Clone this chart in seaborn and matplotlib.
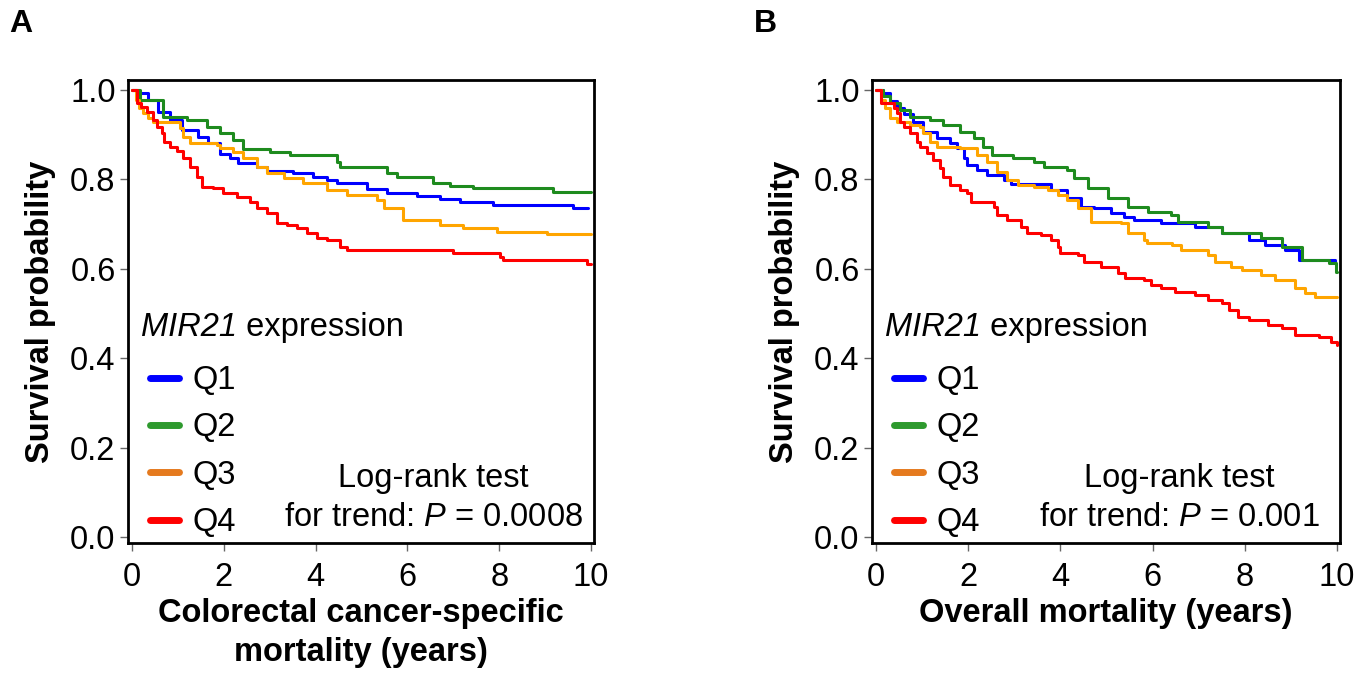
# Kaplan-Meier curves by MIR21 expression quartile (two panels)
import pandas as pd
import numpy as np
import seaborn as sns
import matplotlib
matplotlib.use("Agg")
import matplotlib.pyplot as plt
from matplotlib.lines import Line2D

groups = ["Q1", "Q2", "Q3", "Q4"]
curve_colors = {"Q1": "#0000FF", "Q2": "#1E8B1E", "Q3": "#FFA500", "Q4": "#FF0000"}
legend_colors = ["#0000FF", "#2E9A2E", "#E57A1E", "#FF0000"]

# Panel A: colorectal cancer-specific mortality (step points)
a_q1_t = [0, 0.15, 0.35, 0.57, 0.83, 1.09, 1.44, 1.66, 1.92, 2.14, 2.31, 2.72, 2.94, 3.51, 3.94, 4.25, 4.47, 5.12, 5.55, 6.21, 6.71, 7.15, 7.87, 9.61, 9.93]
a_q1_s = [1.0, 0.993, 0.978, 0.95, 0.933, 0.91, 0.895, 0.881, 0.857, 0.848, 0.837, 0.828, 0.819, 0.814, 0.805, 0.799, 0.792, 0.778, 0.770, 0.763, 0.756, 0.749, 0.743, 0.736, 0.736]
a_q2_t = [0, 0.17, 0.68, 1.2, 1.63, 1.92, 2.2, 2.42, 3.0, 3.44, 4.46, 4.53, 5.55, 5.77, 6.56, 6.93, 7.43, 9.17, 10.0]
a_q2_s = [1.0, 0.978, 0.94, 0.933, 0.917, 0.904, 0.888, 0.868, 0.861, 0.855, 0.839, 0.828, 0.814, 0.805, 0.792, 0.785, 0.781, 0.772, 0.772]
a_q3_t = [0, 0.08, 0.15, 0.25, 0.35, 0.46, 1.05, 1.12, 1.27, 1.85, 1.92, 2.21, 2.42, 2.72, 2.94, 3.30, 3.73, 4.25, 4.68, 5.33, 5.48, 5.91, 6.71, 7.22, 7.95, 9.04, 10.0]
a_q3_s = [1.0, 0.978, 0.96, 0.948, 0.937, 0.928, 0.915, 0.895, 0.881, 0.877, 0.870, 0.861, 0.848, 0.828, 0.814, 0.803, 0.792, 0.776, 0.765, 0.754, 0.736, 0.709, 0.698, 0.691, 0.683, 0.678, 0.678]
a_q4_t = [0, 0.1, 0.2, 0.33, 0.46, 0.55, 0.65, 0.7, 0.83, 0.97, 1.12, 1.27, 1.41, 1.52, 1.77, 1.99, 2.28, 2.57, 2.72, 2.94, 3.16, 3.37, 3.59, 3.81, 4.03, 4.25, 4.53, 4.68, 7.0, 8.02, 8.09, 9.91, 10.0]
a_q4_s = [1.0, 0.97, 0.962, 0.95, 0.933, 0.917, 0.904, 0.884, 0.873, 0.862, 0.848, 0.828, 0.806, 0.783, 0.781, 0.770, 0.761, 0.748, 0.736, 0.725, 0.703, 0.698, 0.691, 0.680, 0.669, 0.665, 0.649, 0.642, 0.635, 0.627, 0.620, 0.611, 0.611]

# Panel B: overall mortality
b_q1_t = [0, 0.15, 0.3, 0.45, 0.6, 0.8, 1.02, 1.32, 1.61, 1.76, 1.9, 1.97, 2.19, 2.41, 2.77, 2.92, 3.79, 4.15, 4.44, 4.73, 5.1, 5.38, 5.6, 6.19, 6.91, 7.5, 8.08, 8.43, 8.87, 9.17, 9.96]
b_q1_s = [1.0, 0.993, 0.975, 0.96, 0.945, 0.928, 0.906, 0.892, 0.881, 0.870, 0.848, 0.832, 0.821, 0.810, 0.799, 0.790, 0.776, 0.758, 0.739, 0.735, 0.725, 0.716, 0.709, 0.703, 0.694, 0.680, 0.665, 0.653, 0.642, 0.620, 0.613]
b_q2_t = [0, 0.15, 0.3, 0.52, 0.74, 1.18, 1.46, 1.83, 2.12, 2.33, 2.52, 2.98, 3.42, 3.64, 4.15, 4.3, 4.6, 5.03, 5.47, 5.9, 6.4, 6.56, 7.2, 7.5, 8.36, 8.8, 9.24, 9.82, 9.98, 10.0]
b_q2_s = [1.0, 0.985, 0.97, 0.955, 0.94, 0.933, 0.922, 0.906, 0.892, 0.873, 0.855, 0.848, 0.839, 0.828, 0.821, 0.803, 0.781, 0.758, 0.739, 0.727, 0.720, 0.705, 0.694, 0.680, 0.669, 0.649, 0.620, 0.613, 0.593, 0.593]
b_q3_t = [0, 0.1, 0.2, 0.3, 0.45, 0.74, 0.96, 1.02, 1.18, 1.32, 1.83, 2.19, 2.41, 2.63, 2.85, 3.07, 3.43, 3.72, 3.94, 4.15, 4.38, 4.66, 5.32, 5.47, 5.82, 5.88, 6.41, 6.62, 7.21, 7.36, 7.71, 7.93, 8.36, 8.65, 9.08, 9.3, 9.52, 10.0]
b_q3_s = [1.0, 0.978, 0.96, 0.937, 0.928, 0.922, 0.917, 0.904, 0.884, 0.873, 0.870, 0.855, 0.839, 0.817, 0.799, 0.788, 0.783, 0.776, 0.765, 0.754, 0.736, 0.705, 0.702, 0.680, 0.665, 0.658, 0.653, 0.642, 0.631, 0.616, 0.604, 0.597, 0.586, 0.575, 0.557, 0.546, 0.537, 0.537]
b_q4_t = [0, 0.1, 0.38, 0.45, 0.52, 0.6, 0.74, 0.89, 0.96, 1.1, 1.24, 1.39, 1.46, 1.61, 1.83, 1.98, 2.05, 2.55, 2.63, 2.85, 3.14, 3.28, 3.57, 3.79, 3.94, 4.0, 4.38, 4.52, 4.88, 5.25, 5.4, 5.82, 5.97, 6.19, 6.48, 6.91, 7.21, 7.5, 7.65, 7.86, 8.08, 8.51, 8.8, 9.08, 9.6, 9.87, 10.0]
b_q4_s = [1.0, 0.97, 0.96, 0.948, 0.928, 0.917, 0.904, 0.884, 0.873, 0.859, 0.844, 0.825, 0.806, 0.787, 0.776, 0.769, 0.750, 0.739, 0.720, 0.709, 0.694, 0.680, 0.676, 0.665, 0.649, 0.635, 0.631, 0.616, 0.604, 0.590, 0.579, 0.575, 0.564, 0.557, 0.549, 0.542, 0.530, 0.523, 0.508, 0.492, 0.485, 0.474, 0.467, 0.452, 0.448, 0.436, 0.430]

p_values = ["0.0008", "0.001"]
xlabels = ["Colorectal cancer-specific\nmortality (years)", "Overall mortality (years)"]
panel_letters = ["A", "B"]


def to_long(curves):
    rows = []
    for g, (t, s) in zip(groups, curves):
        rows.append(pd.DataFrame({"time": t, "surv": s, "group": g}))
    return pd.concat(rows, ignore_index=True)


df_a = to_long([(a_q1_t, a_q1_s), (a_q2_t, a_q2_s), (a_q3_t, a_q3_s), (a_q4_t, a_q4_s)])
df_b = to_long([(b_q1_t, b_q1_s), (b_q2_t, b_q2_s), (b_q3_t, b_q3_s), (b_q4_t, b_q4_s)])

sns.set_style("ticks")
plt.rcParams["font.family"] = ["Liberation Sans", "DejaVu Sans"]
plt.rcParams["mathtext.fontset"] = "custom"
plt.rcParams["mathtext.rm"] = "Liberation Sans"
plt.rcParams["mathtext.it"] = "Liberation Sans:italic"
for key in ["text.color", "axes.labelcolor", "xtick.labelcolor", "ytick.labelcolor"]:
    plt.rcParams[key] = "black"

FS = 23.5

fig = plt.figure(figsize=(13.72, 6.77), dpi=100)
ax_a = fig.add_axes([0.0933, 0.198, 0.3397, 0.684])
ax_b = fig.add_axes([0.6356, 0.198, 0.3411, 0.684])

for ax, df, pv, xl, letter in zip([ax_a, ax_b], [df_a, df_b], p_values, xlabels, panel_letters):
    sns.lineplot(data=df, x="time", y="surv", hue="group", palette=curve_colors,
                 estimator=None, drawstyle="steps-post", linewidth=2.2, legend=False, ax=ax)
    ax.set_xlim(-0.087, 10.065)
    ax.set_ylim(-0.013, 1.022)
    ax.set_xticks([0, 2, 4, 6, 8, 10])
    ax.set_yticks([0.0, 0.2, 0.4, 0.6, 0.8, 1.0])
    ax.set_yticklabels(["0.0", "0.2", "0.4", "0.6", "0.8", "1.0"])
    ax.tick_params(labelsize=FS, length=6, width=1, color="#666666", pad=3)
    ax.tick_params(axis="x", pad=8)
    for sp in ax.spines.values():
        sp.set_visible(True)
        sp.set_linewidth(2)
        sp.set_color("black")
    ax.set_xlabel(xl, fontsize=FS, fontweight="bold", linespacing=1.37, labelpad=3)
    ax.set_ylabel("Survival probability", fontsize=FS, fontweight="bold", labelpad=10)

    # legend title with italic gene name
    t1 = ax.text(0.19, 0.468, "MIR21", style="italic", fontsize=FS, ha="left", va="center")
    ax.annotate(" expression", xy=(1, 0.5), xycoords=t1, fontsize=FS, ha="left", va="center")

    handles = [Line2D([0], [0], color=c, lw=5) for c in legend_colors]
    ax.legend(handles, groups, loc="upper left", bbox_to_anchor=(0.047, 0.384),
              frameon=False, fontsize=FS, handlelength=0.9, handletextpad=0.4,
              labelspacing=0.5, borderaxespad=0, borderpad=0)

    ax.text(6.57, 0.132, "Log-rank test", fontsize=FS, ha="center", va="center")
    ax.text(6.57, 0.043, r"for trend: $\mathit{P}$ = " + pv, fontsize=FS, ha="center", va="center")

    pos = ax.get_position()
    fig.text(pos.x0 - 0.078, 0.965, letter, fontsize=23, fontweight="bold", ha="center", va="center")

fig.savefig("out.png", dpi=100)
